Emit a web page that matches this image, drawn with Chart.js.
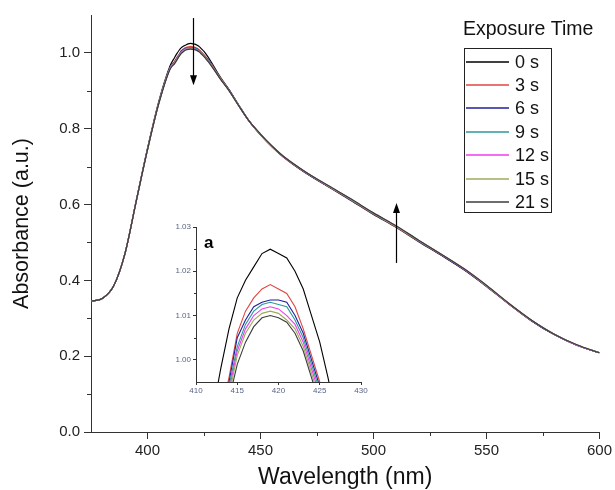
<!DOCTYPE html>
<html>
<head>
<meta charset="utf-8">
<script src="https://cdn.jsdelivr.net/npm/chart.js@4.4.0/dist/chart.umd.min.js"></script>
<style>
  html, body { margin: 0; padding: 0; background: #fff; }
  #wrap { position: relative; width: 615px; height: 490px; }
  #mainChart { position: absolute; left: 0; top: 0; }
  #insetChart { position: absolute; left: 160px; top: 215px; }
</style>
</head>
<body>
<div id="wrap">
  <canvas id="mainChart" width="615" height="490" style="width:615px;height:490px"></canvas>
  <canvas id="insetChart" width="210" height="185" style="width:210px;height:185px"></canvas>
</div>
<script>
// wavelength grid (nm), finer around the band maximum
const wavelengths = [375, 380, 385, 390, 395, 400, 405, 410, 412, 413, 414, 415, 416, 417, 418, 419, 420, 421, 422, 423, 424, 425, 426, 428, 432, 436, 440, 445, 450, 455, 460, 470, 480, 490, 500, 510, 520, 530, 540, 550, 560, 570, 580, 590, 600];

const abs0s  = [0.345, 0.352, 0.385, 0.470, 0.610, 0.748, 0.872, 0.966, 0.988, 0.998, 1.007, 1.014, 1.018, 1.021, 1.024, 1.025, 1.024, 1.023, 1.020, 1.016, 1.010, 1.004, 0.996, 0.978, 0.938, 0.904, 0.866, 0.820, 0.784, 0.753, 0.726, 0.683, 0.647, 0.611, 0.574, 0.540, 0.502, 0.466, 0.428, 0.384, 0.337, 0.293, 0.257, 0.229, 0.209];
const abs3s  = [0.345, 0.352, 0.385, 0.470, 0.609, 0.746, 0.869, 0.961, 0.978, 0.988, 0.996, 1.006, 1.011, 1.014, 1.016, 1.017, 1.016, 1.015, 1.012, 1.007, 1.001, 0.995, 0.988, 0.973, 0.936, 0.903, 0.865, 0.820, 0.784, 0.753, 0.726, 0.684, 0.648, 0.612, 0.575, 0.541, 0.503, 0.467, 0.429, 0.385, 0.337, 0.293, 0.257, 0.229, 0.209];
const abs6s  = [0.345, 0.352, 0.385, 0.470, 0.609, 0.746, 0.868, 0.960, 0.976, 0.986, 0.995, 1.005, 1.009, 1.012, 1.013, 1.0135, 1.0135, 1.013, 1.010, 1.006, 1.000, 0.994, 0.987, 0.972, 0.935, 0.903, 0.865, 0.820, 0.785, 0.754, 0.727, 0.684, 0.648, 0.613, 0.576, 0.542, 0.504, 0.467, 0.429, 0.385, 0.338, 0.293, 0.257, 0.229, 0.209];
const abs9s  = [0.345, 0.352, 0.385, 0.470, 0.609, 0.745, 0.868, 0.960, 0.975, 0.985, 0.994, 1.003, 1.008, 1.011, 1.0125, 1.013, 1.0125, 1.012, 1.009, 1.005, 0.999, 0.993, 0.986, 0.971, 0.935, 0.902, 0.865, 0.820, 0.785, 0.754, 0.727, 0.685, 0.649, 0.613, 0.576, 0.542, 0.504, 0.468, 0.430, 0.386, 0.338, 0.294, 0.258, 0.229, 0.209];
const abs12s = [0.345, 0.352, 0.385, 0.470, 0.608, 0.745, 0.867, 0.959, 0.974, 0.984, 0.993, 1.002, 1.007, 1.010, 1.0115, 1.012, 1.0115, 1.010, 1.008, 1.004, 0.998, 0.992, 0.985, 0.970, 0.934, 0.902, 0.864, 0.820, 0.785, 0.754, 0.727, 0.685, 0.649, 0.614, 0.577, 0.543, 0.505, 0.468, 0.430, 0.386, 0.338, 0.294, 0.258, 0.229, 0.209];
const abs15s = [0.345, 0.352, 0.385, 0.470, 0.608, 0.744, 0.867, 0.958, 0.973, 0.983, 0.992, 1.001, 1.006, 1.009, 1.0105, 1.011, 1.0105, 1.009, 1.007, 1.003, 0.997, 0.991, 0.984, 0.969, 0.934, 0.901, 0.864, 0.820, 0.785, 0.754, 0.728, 0.685, 0.649, 0.614, 0.577, 0.543, 0.505, 0.469, 0.431, 0.386, 0.339, 0.294, 0.258, 0.230, 0.209];
const abs21s = [0.345, 0.352, 0.385, 0.470, 0.608, 0.744, 0.866, 0.957, 0.972, 0.981, 0.991, 0.999, 1.004, 1.0075, 1.0095, 1.010, 1.0095, 1.0085, 1.006, 1.002, 0.996, 0.990, 0.983, 0.968, 0.933, 0.901, 0.864, 0.820, 0.786, 0.755, 0.728, 0.686, 0.650, 0.615, 0.578, 0.544, 0.506, 0.469, 0.431, 0.387, 0.339, 0.295, 0.258, 0.230, 0.209];

const seriesLabels = ['0 s', '3 s', '6 s', '9 s', '12 s', '15 s', '21 s'];
const seriesValues = [abs0s, abs3s, abs6s, abs9s, abs12s, abs15s, abs21s];
const seriesColors = ['#000000', '#e0453f', '#1f1f9e', '#2a9a9a', '#ee3cee', '#9faa5c', '#3c3c3c'];

const xTicks = [400, 450, 500, 550, 600];
const xMinorTicks = [425, 475, 525, 575];
const yTicks = [0.0, 0.2, 0.4, 0.6, 0.8, 1.0];
const yMinorTicks = [0.1, 0.3, 0.5, 0.7, 0.9];

const insetXTicks = [410, 415, 420, 425, 430];
const insetYTicks = [1.00, 1.01, 1.02, 1.03];
const insetYMinorTicks = [1.005, 1.015, 1.025];

// arrows in data units (wavelength, absorbance)
const arrowMarks = [
  { x: 420, from: 1.092, to: 0.915 },
  { x: 510, from: 0.446, to: 0.604 }
];

const FONT = 'Liberation Sans, Arial, Helvetica, sans-serif';

function makeDatasets(width, tension) {
  return seriesValues.map(function (vals, i) {
    return {
      label: seriesLabels[i],
      data: wavelengths.map(function (w, j) { return { x: w, y: vals[j] }; }),
      borderColor: seriesColors[i],
      borderWidth: width,
      pointRadius: 0,
      tension: tension,
      cubicInterpolationMode: tension ? 'monotone' : 'default',
      fill: false,
      order: seriesValues.length - i
    };
  });
}

const minorTickPlugin = {
  id: 'minorTicks',
  afterDraw(chart, args, opts) {
    const ctx = chart.ctx;
    const xs = chart.scales.x, ys = chart.scales.y;
    ctx.save();
    ctx.strokeStyle = '#333';
    ctx.lineWidth = 1;
    ctx.beginPath();
    (opts.x || []).forEach(function (v) {
      const px = Math.round(xs.getPixelForValue(v)) + 0.5;
      ctx.moveTo(px, xs.top);
      ctx.lineTo(px, xs.top + opts.length);
    });
    (opts.y || []).forEach(function (v) {
      const py = Math.round(ys.getPixelForValue(v)) + 0.5;
      ctx.moveTo(ys.right, py);
      ctx.lineTo(ys.right - opts.length, py);
    });
    ctx.stroke();
    ctx.restore();
  }
};

const arrowPlugin = {
  id: 'arrows',
  afterDatasetsDraw(chart) {
    const ctx = chart.ctx;
    const xs = chart.scales.x, ys = chart.scales.y;
    ctx.save();
    ctx.strokeStyle = '#000';
    ctx.fillStyle = '#000';
    ctx.lineWidth = 1.2;
    arrowMarks.forEach(function (a) {
      const px = Math.round(xs.getPixelForValue(a.x)) + 0.5;
      const y0 = ys.getPixelForValue(a.from);
      const y1 = ys.getPixelForValue(a.to);
      const dir = Math.sign(y1 - y0);
      ctx.beginPath();
      ctx.moveTo(px, y0);
      ctx.lineTo(px, y1 - dir * 6);
      ctx.stroke();
      ctx.beginPath();
      ctx.moveTo(px, y1);
      ctx.lineTo(px - 3.5, y1 - dir * 10);
      ctx.lineTo(px + 3.5, y1 - dir * 10);
      ctx.closePath();
      ctx.fill();
    });
    ctx.restore();
  }
};

const legendPlugin = {
  id: 'legendBox',
  afterDraw(chart) {
    const ctx = chart.ctx;
    ctx.save();
    ctx.fillStyle = '#111';
    ctx.font = '19.5px ' + FONT;
    ctx.textBaseline = 'middle';
    ctx.textAlign = 'left';
    ctx.fillText('Exposure Time', 463, 30);

    ctx.strokeStyle = '#222';
    ctx.lineWidth = 1;
    ctx.strokeRect(464.5, 48.5, 87, 164);

    ctx.font = '18px ' + FONT;
    seriesLabels.forEach(function (lab, i) {
      const ry = Math.round(61.5 + i * 23.4);
      ctx.strokeStyle = seriesColors[i];
      ctx.lineWidth = 1.5;
      ctx.beginPath();
      ctx.moveTo(466, ry);
      ctx.lineTo(509, ry);
      ctx.stroke();
      ctx.fillStyle = '#111';
      ctx.fillText(lab, 515, ry + 1);
    });
    ctx.restore();
  }
};

new Chart(document.getElementById('mainChart').getContext('2d'), {
  type: 'line',
  data: { datasets: makeDatasets(1.2, 0.4) },
  plugins: [minorTickPlugin, arrowPlugin, legendPlugin],
  options: {
    responsive: false,
    animation: false,
    layout: { padding: { top: 15, right: 14, left: 0, bottom: 0 } },
    plugins: {
      legend: { display: false },
      tooltip: { enabled: false },
      minorTicks: { x: xMinorTicks, y: yMinorTicks, length: 4 }
    },
    scales: {
      x: {
        type: 'linear',
        min: 375,
        max: 600,
        afterBuildTicks: function (s) { s.ticks = xTicks.map(function (v) { return { value: v }; }); },
        afterFit: function (s) { s.height = 58; },
        grid: { display: true, drawOnChartArea: false, drawTicks: true, tickLength: 7, color: '#333', tickColor: '#333' },
        border: { display: true, color: '#333', width: 1 },
        ticks: { font: { family: FONT, size: 15 }, color: '#222', padding: 3, maxRotation: 0 },
        title: { display: true, text: 'Wavelength (nm)', font: { family: FONT, size: 23, lineHeight: 1.1 }, color: '#111', padding: { top: 0, bottom: 0 } }
      },
      y: {
        type: 'linear',
        min: 0,
        max: 1.1,
        afterBuildTicks: function (s) { s.ticks = yTicks.map(function (v) { return { value: v }; }); },
        afterFit: function (s) { s.width = 91; },
        grid: { display: true, drawOnChartArea: false, drawTicks: true, tickLength: 7, color: '#333', tickColor: '#333' },
        border: { display: true, color: '#333', width: 1 },
        ticks: { font: { family: FONT, size: 15 }, color: '#222', padding: 4, callback: function (v) { return Number(v).toFixed(1); } },
        title: { display: true, text: 'Absorbance (a.u.)', font: { family: FONT, size: 21.5 }, color: '#111', padding: { top: 9, bottom: 0 } }
      }
    }
  }
});

const insetLabelPlugin = {
  id: 'insetLabel',
  afterDraw(chart) {
    const ctx = chart.ctx;
    const a = chart.chartArea;
    ctx.save();
    ctx.fillStyle = '#000';
    ctx.font = 'bold 17px ' + FONT;
    ctx.textBaseline = 'middle';
    ctx.fillText('a', a.left + 8, a.top + 16);
    ctx.restore();
  }
};

new Chart(document.getElementById('insetChart').getContext('2d'), {
  type: 'line',
  data: { datasets: makeDatasets(1.1, 0) },
  plugins: [minorTickPlugin, insetLabelPlugin],
  options: {
    responsive: false,
    animation: false,
    layout: { padding: { top: 12, right: 9, left: 0, bottom: 0 } },
    plugins: {
      legend: { display: false },
      tooltip: { enabled: false },
      minorTicks: { y: insetYMinorTicks, length: 2 }
    },
    scales: {
      x: {
        type: 'linear',
        min: 410,
        max: 430,
        afterBuildTicks: function (s) { s.ticks = insetXTicks.map(function (v) { return { value: v }; }); },
        afterFit: function (s) { s.height = 18; },
        grid: { display: true, drawOnChartArea: false, drawTicks: true, tickLength: 3, color: '#333', tickColor: '#333' },
        border: { display: true, color: '#333', width: 1 },
        ticks: { font: { family: FONT, size: 8 }, color: '#5a6485', padding: 1, maxRotation: 0 }
      },
      y: {
        type: 'linear',
        min: 0.995,
        max: 1.03,
        afterBuildTicks: function (s) { s.ticks = insetYTicks.map(function (v) { return { value: v }; }); },
        afterFit: function (s) { s.width = 36; },
        grid: { display: true, drawOnChartArea: false, drawTicks: true, tickLength: 3, color: '#333', tickColor: '#333' },
        border: { display: true, color: '#333', width: 1 },
        ticks: { font: { family: FONT, size: 8 }, color: '#5a6485', padding: 2, callback: function (v) { return Number(v).toFixed(2); } }
      }
    }
  }
});
</script>
</body>
</html>
